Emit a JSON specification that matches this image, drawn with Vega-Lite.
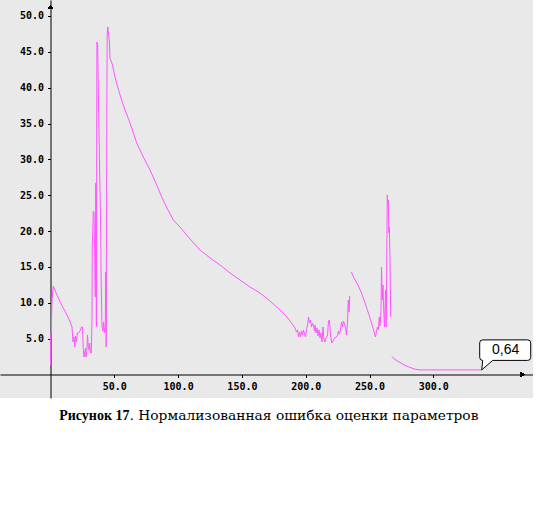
{
  "$schema": "https://vega.github.io/schema/vega-lite/v6.json",
  "width": 533,
  "height": 398,
  "padding": 0,
  "background": "white",
  "config": {
    "view": {"fill": "#e9e9e9", "stroke": null},
    "axis": {
      "domainColor": "black", "domainWidth": 1, "tickColor": "black", "tickWidth": 1,
      "tickSize": 3, "labelPadding": 4, "grid": false,
      "labelFont": "DejaVu Sans Mono", "labelFontWeight": "bold", "labelFontSize": 10, "labelColor": "black",
      "titleColor": "black"
    }
  },
  "data": {"values": [
    {"x": 0, "y": 1.33, "seg": 1}, {"x": 0.1, "y": 5.51, "seg": 1}, {"x": 0.63, "y": 5.93, "seg": 1},
    {"x": 1.18, "y": 10.39, "seg": 1}, {"x": 2.19, "y": 12.34, "seg": 1}, {"x": 2.74, "y": 12.06, "seg": 1},
    {"x": 4.35, "y": 11.37, "seg": 1}, {"x": 6.9, "y": 10.39, "seg": 1}, {"x": 9.56, "y": 9.41, "seg": 1},
    {"x": 12.15, "y": 8.58, "seg": 1}, {"x": 14.73, "y": 7.6, "seg": 1}, {"x": 16.85, "y": 6.62, "seg": 1},
    {"x": 17.63, "y": 4.53, "seg": 1}, {"x": 18.42, "y": 5.23, "seg": 1}, {"x": 18.97, "y": 3.84, "seg": 1},
    {"x": 19.59, "y": 5.37, "seg": 1}, {"x": 20.38, "y": 4.53, "seg": 1}, {"x": 21.0, "y": 5.79, "seg": 1},
    {"x": 21.94, "y": 5.79, "seg": 1}, {"x": 23.12, "y": 6.07, "seg": 1}, {"x": 24.29, "y": 6.62, "seg": 1},
    {"x": 25.08, "y": 6.62, "seg": 1}, {"x": 25.63, "y": 3.7, "seg": 1}, {"x": 26.25, "y": 2.44, "seg": 1},
    {"x": 26.88, "y": 3.14, "seg": 1}, {"x": 27.51, "y": 3.7, "seg": 1}, {"x": 27.82, "y": 2.44, "seg": 1},
    {"x": 28.61, "y": 3.42, "seg": 1}, {"x": 29.0, "y": 5.51, "seg": 1}, {"x": 29.55, "y": 3.97, "seg": 1},
    {"x": 30.17, "y": 3.42, "seg": 1}, {"x": 30.72, "y": 4.39, "seg": 1}, {"x": 31.35, "y": 3.0, "seg": 1},
    {"x": 31.97, "y": 3.0, "seg": 1}, {"x": 32.52, "y": 7.88, "seg": 1}, {"x": 32.76, "y": 17.78, "seg": 1},
    {"x": 33.54, "y": 22.8, "seg": 1}, {"x": 34.09, "y": 22.52, "seg": 1}, {"x": 34.48, "y": 18.48, "seg": 1},
    {"x": 35.11, "y": 10.81, "seg": 1}, {"x": 35.5, "y": 26.71, "seg": 1}, {"x": 35.97, "y": 6.62, "seg": 1},
    {"x": 36.36, "y": 46.37, "seg": 1}, {"x": 36.99, "y": 45.95, "seg": 1}, {"x": 37.46, "y": 39.96, "seg": 1},
    {"x": 38.4, "y": 29.64, "seg": 1}, {"x": 39.18, "y": 21.97, "seg": 1}, {"x": 39.73, "y": 12.76, "seg": 1},
    {"x": 40.36, "y": 6.76, "seg": 1}, {"x": 41.14, "y": 6.07, "seg": 1}, {"x": 41.61, "y": 7.32, "seg": 1},
    {"x": 42.32, "y": 5.79, "seg": 1}, {"x": 42.95, "y": 6.9, "seg": 1}, {"x": 43.34, "y": 14.3, "seg": 1},
    {"x": 43.65, "y": 3.84, "seg": 1}, {"x": 44.12, "y": 35.77, "seg": 1}, {"x": 44.44, "y": 47.35, "seg": 1},
    {"x": 44.91, "y": 48.47, "seg": 1}, {"x": 45.45, "y": 47.63, "seg": 1}, {"x": 46.08, "y": 46.65, "seg": 1},
    {"x": 46.63, "y": 44.14, "seg": 1}, {"x": 48.59, "y": 43.17, "seg": 1}, {"x": 50.55, "y": 41.49, "seg": 1},
    {"x": 52.9, "y": 39.96, "seg": 1}, {"x": 55.25, "y": 38.56, "seg": 1}, {"x": 58.39, "y": 36.89, "seg": 1},
    {"x": 62.3, "y": 35.08, "seg": 1}, {"x": 67.55, "y": 32.29, "seg": 1}, {"x": 72.73, "y": 30.33, "seg": 1},
    {"x": 77.98, "y": 28.52, "seg": 1}, {"x": 83.23, "y": 26.43, "seg": 1}, {"x": 87.15, "y": 24.76, "seg": 1},
    {"x": 92.08, "y": 22.94, "seg": 1}, {"x": 96.24, "y": 21.55, "seg": 1}, {"x": 101.49, "y": 20.57, "seg": 1},
    {"x": 109.33, "y": 18.9, "seg": 1}, {"x": 117.16, "y": 17.36, "seg": 1}, {"x": 125.0, "y": 16.25, "seg": 1},
    {"x": 132.84, "y": 15.27, "seg": 1}, {"x": 140.67, "y": 14.16, "seg": 1}, {"x": 148.51, "y": 13.18, "seg": 1},
    {"x": 156.35, "y": 12.2, "seg": 1}, {"x": 164.18, "y": 11.37, "seg": 1}, {"x": 172.02, "y": 10.25, "seg": 1},
    {"x": 179.86, "y": 9.0, "seg": 1}, {"x": 184.56, "y": 8.16, "seg": 1}, {"x": 187.7, "y": 7.46, "seg": 1},
    {"x": 190.05, "y": 6.9, "seg": 1}, {"x": 191.62, "y": 6.49, "seg": 1}, {"x": 192.79, "y": 5.93, "seg": 1},
    {"x": 193.57, "y": 6.21, "seg": 1}, {"x": 194.36, "y": 5.23, "seg": 1}, {"x": 195.14, "y": 5.93, "seg": 1},
    {"x": 195.92, "y": 5.23, "seg": 1}, {"x": 196.71, "y": 6.07, "seg": 1}, {"x": 197.49, "y": 5.51, "seg": 1},
    {"x": 198.28, "y": 6.21, "seg": 1}, {"x": 199.06, "y": 5.65, "seg": 1}, {"x": 199.84, "y": 5.23, "seg": 1},
    {"x": 200.63, "y": 6.21, "seg": 1}, {"x": 201.41, "y": 6.9, "seg": 1}, {"x": 202.19, "y": 8.02, "seg": 1},
    {"x": 202.98, "y": 7.18, "seg": 1}, {"x": 203.76, "y": 7.6, "seg": 1}, {"x": 204.55, "y": 6.62, "seg": 1},
    {"x": 205.33, "y": 7.18, "seg": 1}, {"x": 206.11, "y": 6.76, "seg": 1}, {"x": 206.9, "y": 6.07, "seg": 1},
    {"x": 207.29, "y": 6.9, "seg": 1}, {"x": 208.07, "y": 5.79, "seg": 1}, {"x": 208.86, "y": 6.49, "seg": 1},
    {"x": 209.64, "y": 5.37, "seg": 1}, {"x": 210.42, "y": 6.21, "seg": 1}, {"x": 211.21, "y": 5.09, "seg": 1},
    {"x": 211.99, "y": 5.79, "seg": 1}, {"x": 212.77, "y": 4.53, "seg": 1}, {"x": 213.56, "y": 6.62, "seg": 1},
    {"x": 214.34, "y": 4.81, "seg": 1}, {"x": 215.13, "y": 4.53, "seg": 1}, {"x": 215.91, "y": 5.09, "seg": 1},
    {"x": 217.08, "y": 5.37, "seg": 1}, {"x": 217.87, "y": 7.46, "seg": 1}, {"x": 218.65, "y": 7.6, "seg": 1},
    {"x": 219.44, "y": 5.51, "seg": 1}, {"x": 220.38, "y": 4.39, "seg": 1}, {"x": 221.39, "y": 4.67, "seg": 1},
    {"x": 222.57, "y": 5.09, "seg": 1}, {"x": 223.75, "y": 5.23, "seg": 1}, {"x": 224.92, "y": 5.37, "seg": 1},
    {"x": 225.71, "y": 6.07, "seg": 1}, {"x": 226.49, "y": 5.65, "seg": 1}, {"x": 227.27, "y": 6.21, "seg": 1},
    {"x": 228.06, "y": 7.32, "seg": 1}, {"x": 228.84, "y": 6.62, "seg": 1}, {"x": 229.62, "y": 7.46, "seg": 1},
    {"x": 230.41, "y": 7.04, "seg": 1}, {"x": 231.19, "y": 6.62, "seg": 1}, {"x": 231.97, "y": 5.51, "seg": 1},
    {"x": 232.76, "y": 7.32, "seg": 1}, {"x": 233.39, "y": 10.39, "seg": 1}, {"x": 233.93, "y": 8.72, "seg": 1},
    {"x": 234.48, "y": 10.95, "seg": 1},
    {"x": 235.89, "y": 14.3, "seg": 2}, {"x": 236.68, "y": 13.88, "seg": 2}, {"x": 238.64, "y": 13.18, "seg": 2},
    {"x": 240.99, "y": 12.48, "seg": 2}, {"x": 243.34, "y": 11.51, "seg": 2}, {"x": 245.69, "y": 10.39, "seg": 2},
    {"x": 248.04, "y": 9.14, "seg": 2}, {"x": 250.39, "y": 7.88, "seg": 2}, {"x": 252.74, "y": 6.49, "seg": 2},
    {"x": 254.7, "y": 5.23, "seg": 2}, {"x": 255.49, "y": 6.07, "seg": 2}, {"x": 256.27, "y": 6.62, "seg": 2},
    {"x": 256.9, "y": 6.21, "seg": 2}, {"x": 257.68, "y": 8.02, "seg": 2}, {"x": 258.23, "y": 6.76, "seg": 2},
    {"x": 259.01, "y": 8.86, "seg": 2}, {"x": 259.4, "y": 14.99, "seg": 2}, {"x": 260.03, "y": 10.39, "seg": 2},
    {"x": 260.58, "y": 12.48, "seg": 2}, {"x": 261.13, "y": 9.0, "seg": 2}, {"x": 261.76, "y": 6.62, "seg": 2},
    {"x": 262.54, "y": 11.79, "seg": 2}, {"x": 263.17, "y": 6.62, "seg": 2}, {"x": 263.56, "y": 17.36, "seg": 2},
    {"x": 263.95, "y": 25.04, "seg": 2}, {"x": 264.34, "y": 23.64, "seg": 2}, {"x": 264.73, "y": 24.34, "seg": 2},
    {"x": 265.13, "y": 19.74, "seg": 2}, {"x": 265.52, "y": 20.57, "seg": 2}, {"x": 266.07, "y": 15.97, "seg": 2},
    {"x": 266.61, "y": 8.02, "seg": 2},
    {"x": 267.4, "y": 2.51, "seg": 3}, {"x": 269.98, "y": 2.09, "seg": 3}, {"x": 273.9, "y": 1.67, "seg": 3},
    {"x": 277.82, "y": 1.26, "seg": 3}, {"x": 281.74, "y": 0.98, "seg": 3}, {"x": 285.66, "y": 0.74, "seg": 3},
    {"x": 289.58, "y": 0.64, "seg": 3}, {"x": 337.93, "y": 0.64, "seg": 3}
  ]},
  "encoding": {
    "x": {
      "field": "x", "type": "quantitative",
      "scale": {"domain": [-39.58, 378.13], "nice": false, "zero": false},
      "axis": {
        "orient": "bottom", "offset": -23.5, "values": [50, 100, 150, 200, 250, 300], "format": ".1f",
        "title": ". Нормализованная ошибка оценки параметров",
        "titleFont": "DejaVu Serif", "titleFontSize": 13.8, "titleFontWeight": "normal",
        "titleX": 129, "titleY": 45, "titleAlign": "left", "titleBaseline": "alphabetic", "titleAnchor": null
      }
    },
    "y": {
      "field": "y", "type": "quantitative",
      "scale": {"domain": [-3.28, 52.23], "nice": false, "zero": false},
      "axis": {
        "orient": "left", "offset": -50.5, "values": [5, 10, 15, 20, 25, 30, 35, 40, 45, 50], "format": ".1f",
        "title": "Рисунок 17",
        "titleFont": "Liberation Serif", "titleFontSize": 14, "titleFontWeight": "bold", "titleAngle": 0,
        "titleX": 78.5, "titleY": 419.5, "titleAlign": "right", "titleBaseline": "alphabetic", "titleAnchor": null
      }
    }
  },
  "layer": [
    {
      "mark": {"type": "line", "color": "#ff55ff", "strokeWidth": 1},
      "encoding": {"detail": {"field": "seg", "type": "nominal"}}
    },
    {
      "transform": [{"filter": "datum.x > 337"}],
      "mark": {
        "type": "point", "filled": true, "fill": "white", "stroke": "black", "strokeWidth": 1, "opacity": 1,
        "size": 4,
        "shape": "M0,0 L11,-9.5 L46,-9.5 Q49,-9.5 49,-12.5 L49,-27 Q49,-30 46,-30 L1,-30 Q-2,-30 -2,-27 L-2,-12.5 Q-2,-9.5 1,-9.5 Z"
      }
    },
    {
      "transform": [{"filter": "datum.x > 337"}],
      "mark": {
        "type": "text", "text": "0,64", "font": "Liberation Sans", "fontSize": 14, "color": "black",
        "align": "center", "baseline": "middle", "dx": 24, "dy": -20
      }
    },
    {
      "mark": {"type": "point", "shape": "triangle-right", "filled": true, "color": "black", "size": 22, "opacity": 1},
      "encoding": {"x": {"datum": 370}, "y": {"datum": 0}}
    },
    {
      "mark": {"type": "point", "shape": "triangle-up", "filled": true, "color": "black", "size": 22, "opacity": 1},
      "encoding": {"x": {"datum": 0}, "y": {"datum": 51.25}}
    }
  ]
}
